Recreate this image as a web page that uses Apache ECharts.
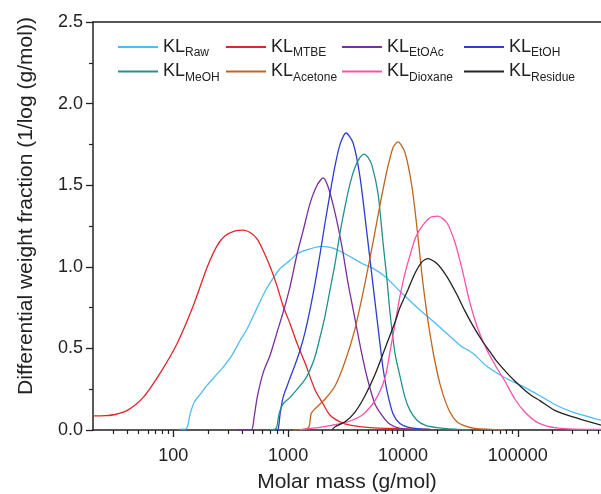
<!DOCTYPE html>
<html>
<head>
<meta charset="utf-8">
<script src="https://cdn.jsdelivr.net/npm/echarts@6/dist/echarts.min.js"></script>
<style>
  html, body { margin: 0; padding: 0; background: #fff; }
  #chart { width: 601px; height: 494px; }
</style>
</head>
<body>
<div id="chart"></div>
<script>
// molar mass (g/mol) vs differential weight fraction
var klRaw = [[115,0.005],[130,0.008],[140.5,0.10],[152,0.17],[172,0.22],[197.5,0.275],[232,0.33],[272,0.385],[326,0.46],[382.5,0.55],[440,0.62],[538,0.75],[631,0.85],[741,0.93],[852,0.99],[1041,1.04],[1198,1.08],[1554,1.11],[1976,1.125],[2462,1.115],[3131,1.08],[4400,1.02],[5484,0.99],[6975,0.94],[9417,0.85],[14050,0.735],[20970,0.63],[31310,0.52],[40620,0.47],[53770,0.39],[77090,0.32],[108300,0.27],[155400,0.21],[218300,0.15],[300900,0.11],[496300,0.065],[530000,0.06]];
var klMTBE = [[20,0.086],[25.6,0.088],[31.3,0.095],[39.8,0.12],[54.8,0.20],[77.1,0.35],[108,0.53],[149,0.76],[198,1.00],[241,1.13],[283,1.19],[346,1.22],[406,1.225],[467,1.21],[538,1.17],[606,1.10],[698,1.00],[802,0.88],[904,0.76],[1041,0.65],[1198,0.53],[1405,0.41],[1717,0.245],[2015,0.16],[2318,0.09],[2833,0.05],[3460,0.03],[5164,0.015],[9417,0.008],[17170,0.003]];
var klEtOAc = [[360,0],[477,0],[506,0.08],[538,0.20],[606,0.35],[698,0.46],[802,0.60],[904,0.72],[1041,0.88],[1198,1.08],[1350,1.22],[1554,1.39],[1787,1.50],[2015,1.545],[2227,1.49],[2562,1.33],[2948,1.12],[3324,0.90],[3824,0.68],[4400,0.46],[4962,0.30],[5708,0.16],[6567,0.09],[7709,0.035],[9417,0.01],[12720,0.003]];
var klEtOH = [[771,0],[818,0.005],[852,0.10],[904,0.20],[980,0.27],[1041,0.32],[1150,0.40],[1272,0.49],[1405,0.60],[1554,0.74],[1717,0.90],[1898,1.08],[2097,1.27],[2318,1.45],[2562,1.62],[2833,1.75],[3194,1.82],[3675,1.76],[4228,1.55],[4864,1.20],[5376,0.94],[6062,0.63],[6700,0.38],[7260,0.24],[8185,0.10],[9417,0.04],[11510,0.015],[17170,0.003]];
var klMeOH = [[698,0],[787,0.01],[835,0.10],[904,0.16],[1041,0.20],[1198,0.25],[1405,0.31],[1554,0.37],[1717,0.45],[1898,0.57],[2097,0.70],[2318,0.86],[2562,1.02],[2833,1.21],[3131,1.37],[3460,1.51],[3824,1.61],[4228,1.67],[4580,1.69],[4962,1.67],[5376,1.62],[6062,1.45],[6700,1.15],[7260,0.92],[7709,0.72],[8521,0.47],[9417,0.33],[10410,0.20],[11510,0.12],[13240,0.06],[15540,0.03],[19750,0.015],[28330,0.005],[38250,0]];
var klAcetone = [[1105,0],[1405,0.005],[1522,0.02],[1585,0.10],[1717,0.13],[2097,0.19],[2562,0.27],[3131,0.42],[3824,0.62],[4672,0.90],[5484,1.15],[6310,1.38],[7260,1.59],[8185,1.73],[9047,1.765],[10410,1.70],[11980,1.49],[13240,1.24],[14920,0.90],[17170,0.59],[19750,0.36],[22270,0.22],[25630,0.11],[29480,0.05],[34600,0.025],[42280,0.01],[77090,0]];
var klDioxane = [[1272,0],[1405,0.005],[1824,0.015],[2227,0.025],[3131,0.045],[4400,0.09],[5708,0.18],[6975,0.32],[7709,0.48],[8521,0.65],[9417,0.82],[10410,0.96],[11510,1.07],[12720,1.17],[14050,1.23],[17170,1.30],[20150,1.31],[24130,1.27],[28330,1.15],[32600,0.99],[38250,0.78],[44880,0.62],[53770,0.49],[65670,0.38],[77090,0.30],[94170,0.19],[115100,0.11],[149200,0.045],[222700,0.012],[530000,0.004]];
var klResidue = [[2413,0],[2562,0.02],[3131,0.05],[3824,0.11],[4672,0.21],[5708,0.34],[6975,0.50],[8521,0.66],[9417,0.75],[11050,0.86],[12720,0.96],[14630,1.03],[16500,1.05],[19750,1.02],[24130,0.94],[29480,0.83],[34600,0.73],[40620,0.64],[48640,0.55],[57080,0.48],[65670,0.42],[80240,0.35],[94170,0.30],[110500,0.255],[132400,0.21],[155400,0.18],[209700,0.12],[300900,0.08],[530000,0.03]];

var majorTicks = [100, 1000, 10000, 100000];
var minorTicks = [30,40,50,60,70,80,90,200,300,400,500,600,700,800,900,2000,3000,4000,5000,6000,7000,8000,9000,20000,30000,40000,50000,60000,70000,80000,90000,200000,300000,400000,500000];

var seriesList = [
    {name: 'Raw', data: klRaw, color: '#4dbdf6'},
    {name: 'MTBE', data: klMTBE, color: '#e0262a'},
    {name: 'EtOAc', data: klEtOAc, color: '#7b2e9e'},
    {name: 'EtOH', data: klEtOH, color: '#2d3cd2'},
    {name: 'MeOH', data: klMeOH, color: '#22918c'},
    {name: 'Acetone', data: klAcetone, color: '#c0651f'},
    {name: 'Dioxane', data: klDioxane, color: '#ff50ae'},
    {name: 'Residue', data: klResidue, color: '#222222'}
];

var FONT = 'Liberation Sans, Arial, sans-serif';
var INK = '#222';

myChart = echarts.init(document.getElementById('chart'));

function makeLegend(left, names) {
    return {
        left: left,
        top: 38,
        padding: 0,
        orient: 'vertical',
        itemWidth: 40,
        itemHeight: 12,
        itemGap: 3.5,
        selectedMode: false,
        data: names,
        itemStyle: {opacity: 0},   // hide the marker dot, keep the line
        formatter: function (name) {
            return '{m|KL}{s|' + name + '}';
        },
        textStyle: {
            fontFamily: FONT,
            color: INK,
            rich: {
                m: {fontSize: 18, lineHeight: 24, fontFamily: FONT, color: INK},
                s: {fontSize: 12, lineHeight: 12, verticalAlign: 'bottom', fontFamily: FONT, color: INK}
            }
        }
    };
}

var logAxisBase = {
    type: 'log',
    logBase: 10,
    min: 20,
    max: 530000,
    gridIndex: 0,
    splitLine: {show: false}
};

option = {
    animation: false,
    backgroundColor: '#fff',
    textStyle: {fontFamily: FONT},
    grid: {left: 93, right: 0, top: 22, bottom: 64, outerBoundsMode: 'none', containLabel: false},
    legend: [
        makeLegend(117, ['Raw', 'MeOH']),
        makeLegend(225, ['MTBE', 'Acetone']),
        makeLegend(341, ['EtOAc', 'Dioxane']),
        makeLegend(463, ['EtOH', 'Residue'])
    ],
    xAxis: [
        Object.assign({}, logAxisBase, {
            position: 'bottom',
            name: 'Molar mass (g/mol)',
            nameLocation: 'middle',
            nameGap: 42,
            nameTextStyle: {fontSize: 21, color: INK, fontFamily: FONT},
            axisLine: {lineStyle: {color: INK, width: 1.5}},
            axisTick: {customValues: majorTicks, length: 7, lineStyle: {color: INK, width: 1.3}},
            axisLabel: {customValues: majorTicks, fontSize: 18, color: INK, margin: 17, fontFamily: FONT,
                formatter: function (v) { return String(Math.round(v)); }}
        }),
        Object.assign({}, logAxisBase, {
            position: 'bottom',
            axisLine: {show: false},
            axisTick: {customValues: minorTicks, length: 4, lineStyle: {color: INK, width: 1.2}},
            axisLabel: {show: false}
        }),
        Object.assign({}, logAxisBase, {
            position: 'top',
            axisLine: {lineStyle: {color: INK, width: 1.5}},
            axisTick: {show: false},
            axisLabel: {show: false}
        })
    ],
    yAxis: {
        type: 'value',
        min: 0,
        max: 2.5,
        interval: 0.5,
        name: 'Differential weight fraction (1/log (g/mol))',
        nameLocation: 'middle',
        nameGap: 56,
        nameTextStyle: {fontSize: 21, color: INK, fontFamily: FONT, padding: [0, 0, 0, 40]},
        axisLine: {show: true, lineStyle: {color: INK, width: 1.5}},
        axisTick: {show: true, length: 7, lineStyle: {color: INK, width: 1.3}},
        minorTick: {show: true, splitNumber: 2, length: 4, lineStyle: {color: INK, width: 1.2}},
        splitLine: {show: false},
        axisLabel: {fontSize: 18, color: INK, margin: 10, fontFamily: FONT,
            formatter: function (v) { return v.toFixed(1); }}
    },
    series: seriesList.map(function (s) {
        return {
            name: s.name,
            type: 'line',
            xAxisIndex: 0,
            data: s.data,
            symbol: 'none',
            showSymbol: false,
            smooth: 0.25,
            color: s.color,
            lineStyle: {color: s.color, width: 1.3}
        };
    })
};

myChart.setOption(option);
</script>
</body>
</html>
